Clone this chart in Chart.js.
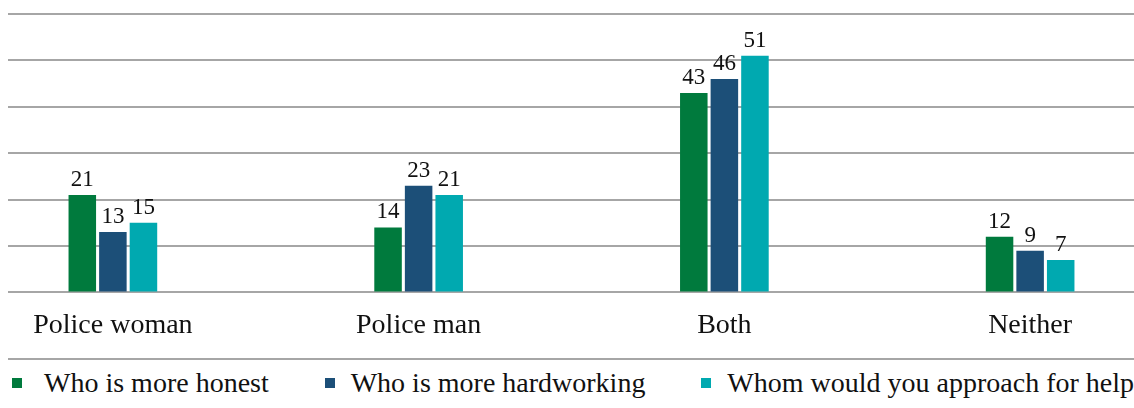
<!DOCTYPE html>
<html>
<head>
<meta charset="utf-8">
<script src="https://cdn.jsdelivr.net/npm/chart.js@4.4.1/dist/chart.umd.min.js"></script>
<style>
  html, body { margin: 0; padding: 0; background: #ffffff; }
  body { width: 1134px; height: 408px; position: relative; overflow: hidden; font-family: "Liberation Serif", serif; }
  #clip { position: absolute; left: 8px; top: 0; width: 1126px; height: 350px; overflow: hidden; }
  #box { position: absolute; left: -48px; top: 0; width: 1223px; height: 350px; }
  #sep { position: absolute; left: 8px; top: 358px; width: 1126px; height: 2px; background: #a6a6a6; }
  #legend { position: absolute; left: 12px; top: 367px; width: 1122px; height: 32px; display: flex; justify-content: space-between; align-items: center; }
  .item { display: flex; align-items: center; white-space: nowrap; font-size: 28px; line-height: 32px; color: #111111; }
  .sw { width: 10px; height: 10px; margin-right: 16px; flex: none; }
  .item:first-child .sw { margin-right: 22px; }
</style>
</head>
<body>
<div id="clip"><div id="box"><canvas id="c"></canvas></div></div>
<div id="sep"></div>
<div id="legend"></div>
<script>
const categories = ["Police woman", "Police man", "Both", "Neither"];
const seriesNames = ["Who is more honest", "Who is more hardworking", "Whom would you approach for help"];
const honest = [21, 14, 43, 12];
const hardworking = [13, 23, 46, 9];
const approachForHelp = [15, 21, 51, 7];
const seriesColors = ["#007a3d", "#1c4f78", "#00a9b0"];
const yTicks = [0, 10, 20, 30, 40, 50, 60];

const seriesData = [honest, hardworking, approachForHelp];

const valueLabels = {
  id: 'valueLabels',
  afterDatasetsDraw(chart) {
    const ctx = chart.ctx;
    ctx.save();
    ctx.font = '23px "Liberation Serif", serif';
    ctx.fillStyle = '#111111';
    ctx.textAlign = 'center';
    ctx.textBaseline = 'alphabetic';
    chart.data.datasets.forEach((ds, i) => {
      chart.getDatasetMeta(i).data.forEach((bar, j) => {
        ctx.fillText(String(ds.data[j]), bar.x, bar.y - 9);
      });
    });
    ctx.restore();
  }
};

const chart = new Chart(document.getElementById('c'), {
  type: 'bar',
  data: {
    labels: categories,
    datasets: seriesNames.map((name, i) => ({
      label: name,
      data: seriesData[i],
      backgroundColor: seriesColors[i],
      borderWidth: 0,
      categoryPercentage: 0.30,
      barPercentage: 0.9
    }))
  },
  options: {
    responsive: true,
    maintainAspectRatio: false,
    animation: false,
    layout: { padding: { top: 14, left: 0, right: 0, bottom: 0 } },
    plugins: { legend: { display: false }, tooltip: { enabled: false } },
    scales: {
      x: {
        grid: { display: false },
        border: { display: false },
        ticks: {
          padding: 8,
          color: '#111111',
          font: { family: '"Liberation Serif", serif', size: 28 }
        }
      },
      y: {
        min: yTicks[0],
        max: yTicks[yTicks.length - 1],
        afterBuildTicks(scale) { scale.ticks = yTicks.map(v => ({ value: v })); },
        ticks: { display: false },
        grid: { color: '#a6a6a6', lineWidth: 2, drawTicks: false },
        border: { display: false }
      }
    }
  },
  plugins: [valueLabels]
});

const legend = document.getElementById('legend');
chart.data.datasets.forEach(ds => {
  const item = document.createElement('div');
  item.className = 'item';
  const sw = document.createElement('span');
  sw.className = 'sw';
  sw.style.background = ds.backgroundColor;
  const txt = document.createElement('span');
  txt.textContent = ds.label;
  item.appendChild(sw);
  item.appendChild(txt);
  legend.appendChild(item);
});
</script>
</body>
</html>
